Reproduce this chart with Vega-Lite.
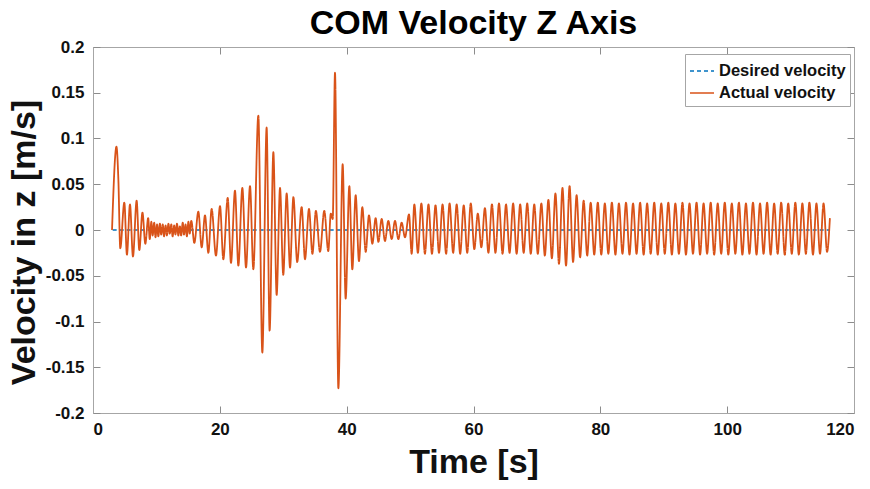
{
"$schema": "https://vega.github.io/schema/vega-lite/v6.json",
"width": 761, "height": 366,
"autosize": {"type": "none"},
"padding": {"left": 93, "top": 47, "right": 16, "bottom": 76},
"background": "white",
"title": {"text": "COM Velocity Z Axis", "font": "Liberation Sans", "fontSize": 34, "fontWeight": "bold", "color": "#000000", "anchor": "middle", "offset": -3},
"config": {
  "view": {"stroke": "#a6a6a6", "strokeWidth": 1},
  "axis": {"grid": false, "domainColor": "#a6a6a6", "tickColor": "#8c8c8c", "tickWidth": 1, "tickSize": -7, "labelFont": "Liberation Sans", "labelFontWeight": "bold", "labelFontSize": 17, "labelColor": "#111111", "titleFont": "Liberation Sans", "titleFontWeight": "bold", "titleFontSize": 34, "titleColor": "#111111"},
  "legend": {"strokeColor": "#a6a6a6", "fillColor": "white", "padding": 4, "labelFont": "Liberation Sans", "labelFontWeight": "bold", "labelFontSize": 16.5, "labelColor": "#111111", "symbolType": "stroke", "symbolSize": 576, "symbolStrokeWidth": 1.5, "rowPadding": 0, "labelOffset": 4}
},
"datasets": {"d": [
{"t":3.1,"v":0,"s":"D"},{"t":116.2,"v":0,"s":"D"},
{"t":3.0,"v":0,"s":"A"},{"t":3.7,"v":0.091,"s":"A"},{"t":4.0,"v":0.055,"s":"A"},{"t":4.3,"v":-0.020,"s":"A"},{"t":4.94,"v":0.030,"s":"A"},{"t":5.35,"v":-0.027,"s":"A"},{"t":5.83,"v":0.028,"s":"A"},{"t":6.3,"v":-0.029,"s":"A"},{"t":6.88,"v":0.032,"s":"A"},{"t":7.3,"v":-0.022,"s":"A"},{"t":7.8,"v":0.019,"s":"A"},{"t":8.25,"v":-0.015,"s":"A"},{"t":8.7,"v":0.013,"s":"A"},
{"t":8.95,"v":-0.010,"s":"A"},{"t":9.2,"v":0.009,"s":"A"},{"t":9.4,"v":-0.006,"s":"A"},{"t":9.65,"v":0.008,"s":"A"},{"t":9.85,"v":-0.008,"s":"A"},{"t":10.1,"v":0.006,"s":"A"},{"t":10.3,"v":-0.007,"s":"A"},{"t":10.55,"v":0.007,"s":"A"},{"t":10.75,"v":-0.005,"s":"A"},{"t":11.0,"v":0.006,"s":"A"},{"t":11.2,"v":-0.007,"s":"A"},{"t":11.45,"v":0.005,"s":"A"},{"t":11.65,"v":-0.006,"s":"A"},{"t":11.9,"v":0.007,"s":"A"},{"t":12.1,"v":-0.004,"s":"A"},{"t":12.35,"v":0.006,"s":"A"},{"t":12.55,"v":-0.007,"s":"A"},{"t":12.8,"v":0.005,"s":"A"},{"t":13.0,"v":-0.005,"s":"A"},{"t":13.25,"v":0.007,"s":"A"},{"t":13.45,"v":-0.006,"s":"A"},{"t":13.7,"v":0.004,"s":"A"},{"t":13.9,"v":-0.006,"s":"A"},{"t":14.15,"v":0.008,"s":"A"},{"t":14.35,"v":-0.005,"s":"A"},{"t":14.6,"v":0.006,"s":"A"},{"t":14.8,"v":-0.007,"s":"A"},{"t":15.05,"v":0.009,"s":"A"},{"t":15.25,"v":-0.004,"s":"A"},{"t":15.5,"v":0.010,"s":"A"},{"t":15.98,"v":-0.014,"s":"A"},
{"t":16.61,"v":0.020,"s":"A"},{"t":17.14,"v":-0.019,"s":"A"},{"t":17.66,"v":0.016,"s":"A"},{"t":18.19,"v":-0.025,"s":"A"},{"t":18.71,"v":0.023,"s":"A"},{"t":19.39,"v":-0.028,"s":"A"},{"t":20.03,"v":0.026,"s":"A"},{"t":20.55,"v":-0.032,"s":"A"},{"t":21.24,"v":0.035,"s":"A"},{"t":21.76,"v":-0.036,"s":"A"},{"t":22.39,"v":0.043,"s":"A"},{"t":22.92,"v":-0.039,"s":"A"},{"t":23.55,"v":0.046,"s":"A"},{"t":24.13,"v":-0.041,"s":"A"},{"t":24.76,"v":0.048,"s":"A"},{"t":25.28,"v":-0.043,"s":"A"},
{"t":26.07,"v":0.125,"s":"A"},{"t":26.7,"v":-0.134,"s":"A"},{"t":27.38,"v":0.112,"s":"A"},{"t":27.85,"v":-0.110,"s":"A"},{"t":28.44,"v":0.085,"s":"A"},{"t":28.96,"v":-0.071,"s":"A"},{"t":29.49,"v":0.046,"s":"A"},{"t":30.0,"v":-0.049,"s":"A"},{"t":30.54,"v":0.040,"s":"A"},{"t":31.07,"v":-0.041,"s":"A"},{"t":31.6,"v":0.036,"s":"A"},{"t":32.2,"v":-0.035,"s":"A"},{"t":32.9,"v":0.025,"s":"A"},{"t":33.43,"v":-0.032,"s":"A"},{"t":34.06,"v":0.023,"s":"A"},{"t":34.6,"v":-0.026,"s":"A"},{"t":35.15,"v":0.021,"s":"A"},{"t":35.79,"v":-0.024,"s":"A"},{"t":36.47,"v":0.021,"s":"A"},{"t":37.1,"v":-0.023,"s":"A"},{"t":37.5,"v":0.018,"s":"A"},{"t":37.8,"v":0.012,"s":"A"},
{"t":38.16,"v":0.172,"s":"A"},{"t":38.69,"v":-0.173,"s":"A"},{"t":39.37,"v":0.072,"s":"A"},{"t":39.84,"v":-0.075,"s":"A"},{"t":40.42,"v":0.048,"s":"A"},{"t":40.89,"v":-0.043,"s":"A"},{"t":41.42,"v":0.038,"s":"A"},{"t":41.94,"v":-0.034,"s":"A"},{"t":42.47,"v":0.025,"s":"A"},{"t":43.0,"v":-0.024,"s":"A"},{"t":43.52,"v":0.016,"s":"A"},{"t":44.05,"v":-0.015,"s":"A"},{"t":44.57,"v":0.013,"s":"A"},{"t":45.0,"v":-0.013,"s":"A"},{"t":45.52,"v":0.012,"s":"A"},{"t":46.04,"v":-0.012,"s":"A"},{"t":46.57,"v":0.010,"s":"A"},{"t":47.1,"v":-0.010,"s":"A"},{"t":47.62,"v":0.010,"s":"A"},{"t":48.15,"v":-0.010,"s":"A"},{"t":48.67,"v":0.008,"s":"A"},{"t":49.2,"v":-0.008,"s":"A"},{"t":49.83,"v":0.017,"s":"A"},{"t":50.25,"v":-0.026,"s":"A"},
{"t":50.67,"v":0.028,"s":"A"},{"t":51.23,"v":-0.025,"s":"A"},{"t":51.78,"v":0.029,"s":"A"},{"t":52.34,"v":-0.026,"s":"A"},{"t":52.90,"v":0.028,"s":"A"},{"t":53.45,"v":-0.026,"s":"A"},{"t":54.01,"v":0.027,"s":"A"},{"t":54.56,"v":-0.025,"s":"A"},{"t":55.12,"v":0.028,"s":"A"},{"t":55.68,"v":-0.026,"s":"A"},{"t":56.23,"v":0.029,"s":"A"},{"t":56.79,"v":-0.025,"s":"A"},{"t":57.35,"v":0.028,"s":"A"},{"t":57.90,"v":-0.026,"s":"A"},{"t":58.46,"v":0.027,"s":"A"},{"t":59.01,"v":-0.025,"s":"A"},{"t":59.57,"v":0.029,"s":"A"},{"t":60.13,"v":-0.021,"s":"A"},{"t":60.68,"v":0.018,"s":"A"},{"t":61.24,"v":-0.019,"s":"A"},{"t":61.80,"v":0.024,"s":"A"},{"t":62.35,"v":-0.025,"s":"A"},{"t":62.91,"v":0.028,"s":"A"},{"t":63.46,"v":-0.025,"s":"A"},{"t":64.02,"v":0.029,"s":"A"},{"t":64.58,"v":-0.026,"s":"A"},{"t":65.13,"v":0.028,"s":"A"},{"t":65.69,"v":-0.025,"s":"A"},{"t":66.25,"v":0.029,"s":"A"},{"t":66.80,"v":-0.026,"s":"A"},{"t":67.36,"v":0.028,"s":"A"},{"t":67.91,"v":-0.025,"s":"A"},{"t":68.47,"v":0.029,"s":"A"},{"t":69.03,"v":-0.026,"s":"A"},{"t":69.58,"v":0.028,"s":"A"},{"t":70.14,"v":-0.026,"s":"A"},{"t":70.70,"v":0.029,"s":"A"},{"t":71.25,"v":-0.028,"s":"A"},{"t":71.81,"v":0.033,"s":"A"},{"t":72.36,"v":-0.031,"s":"A"},{"t":72.92,"v":0.040,"s":"A"},{"t":73.48,"v":-0.037,"s":"A"},{"t":74.03,"v":0.046,"s":"A"},{"t":74.59,"v":-0.039,"s":"A"},{"t":75.15,"v":0.048,"s":"A"},{"t":75.70,"v":-0.035,"s":"A"},{"t":76.26,"v":0.038,"s":"A"},{"t":76.81,"v":-0.030,"s":"A"},{"t":77.37,"v":0.032,"s":"A"},{"t":77.93,"v":-0.028,"s":"A"},{"t":78.48,"v":0.030,"s":"A"},{"t":79.04,"v":-0.027,"s":"A"},
{"t":79.60,"v":0.030,"s":"A"},{"t":80.15,"v":-0.027,"s":"A"},{"t":80.71,"v":0.029,"s":"A"},{"t":81.26,"v":-0.026,"s":"A"},{"t":81.82,"v":0.030,"s":"A"},{"t":82.38,"v":-0.027,"s":"A"},{"t":82.93,"v":0.029,"s":"A"},{"t":83.49,"v":-0.026,"s":"A"},{"t":84.05,"v":0.030,"s":"A"},{"t":84.60,"v":-0.027,"s":"A"},{"t":85.16,"v":0.029,"s":"A"},{"t":85.71,"v":-0.026,"s":"A"},{"t":86.27,"v":0.030,"s":"A"},{"t":86.83,"v":-0.027,"s":"A"},{"t":87.38,"v":0.029,"s":"A"},{"t":87.94,"v":-0.026,"s":"A"},{"t":88.50,"v":0.030,"s":"A"},{"t":89.05,"v":-0.027,"s":"A"},{"t":89.61,"v":0.029,"s":"A"},{"t":90.16,"v":-0.026,"s":"A"},{"t":90.72,"v":0.030,"s":"A"},{"t":91.28,"v":-0.027,"s":"A"},{"t":91.83,"v":0.029,"s":"A"},{"t":92.39,"v":-0.026,"s":"A"},{"t":92.95,"v":0.030,"s":"A"},{"t":93.50,"v":-0.027,"s":"A"},{"t":94.06,"v":0.029,"s":"A"},{"t":94.61,"v":-0.026,"s":"A"},{"t":95.17,"v":0.030,"s":"A"},{"t":95.73,"v":-0.027,"s":"A"},{"t":96.28,"v":0.029,"s":"A"},{"t":96.84,"v":-0.026,"s":"A"},{"t":97.40,"v":0.030,"s":"A"},{"t":97.95,"v":-0.027,"s":"A"},{"t":98.51,"v":0.029,"s":"A"},{"t":99.06,"v":-0.026,"s":"A"},{"t":99.62,"v":0.030,"s":"A"},{"t":100.18,"v":-0.027,"s":"A"},{"t":100.73,"v":0.029,"s":"A"},{"t":101.29,"v":-0.026,"s":"A"},{"t":101.85,"v":0.030,"s":"A"},{"t":102.40,"v":-0.027,"s":"A"},{"t":102.96,"v":0.029,"s":"A"},{"t":103.51,"v":-0.026,"s":"A"},{"t":104.07,"v":0.030,"s":"A"},{"t":104.63,"v":-0.027,"s":"A"},{"t":105.18,"v":0.029,"s":"A"},{"t":105.74,"v":-0.026,"s":"A"},{"t":106.30,"v":0.030,"s":"A"},{"t":106.85,"v":-0.027,"s":"A"},{"t":107.41,"v":0.029,"s":"A"},{"t":107.96,"v":-0.026,"s":"A"},{"t":108.52,"v":0.030,"s":"A"},{"t":109.08,"v":-0.027,"s":"A"},{"t":109.63,"v":0.029,"s":"A"},{"t":110.19,"v":-0.026,"s":"A"},{"t":110.75,"v":0.030,"s":"A"},{"t":111.30,"v":-0.027,"s":"A"},{"t":111.86,"v":0.029,"s":"A"},{"t":112.41,"v":-0.026,"s":"A"},{"t":112.97,"v":0.030,"s":"A"},{"t":113.53,"v":-0.027,"s":"A"},{"t":114.08,"v":0.029,"s":"A"},{"t":114.64,"v":-0.026,"s":"A"},{"t":115.20,"v":0.029,"s":"A"},{"t":115.75,"v":-0.024,"s":"A"},{"t":116.2,"v":0.013,"s":"A"}
]},
"data": {"name": "d"},
"layer": [
  {
    "transform": [{"filter": "datum.s == 'D'"}],
    "mark": {"type": "line", "strokeWidth": 1.3},
    "encoding": {
      "x": {"field": "t", "type": "quantitative", "scale": {"domain": [0, 120], "nice": false, "zero": false},
            "axis": {"values": [0, 20, 40, 60, 80, 100, 120], "title": "Time [s]", "labelPadding": 15, "titlePadding": 8, "labelExpr": "'' + datum.value"}},
      "y": {"field": "v", "type": "quantitative", "scale": {"domain": [-0.2, 0.2], "nice": false},
            "axis": {"values": [-0.2, -0.15, -0.1, -0.05, 0, 0.05, 0.1, 0.15, 0.2], "title": "Velocity in z [m/s]", "labelPadding": 16, "titlePadding": 4, "titleY": 195, "labelExpr": "'' + datum.value"}},
      "color": {"field": "s", "type": "nominal", "scale": {"domain": ["D", "A"], "range": ["#0072BD", "#D95319"]},
                "legend": {"title": null, "orient": "none", "legendX": 592, "legendY": 7, "labelExpr": "datum.label == 'D' ? 'Desired velocity' : 'Actual velocity'"}},
      "strokeDash": {"field": "s", "type": "nominal", "scale": {"domain": ["D", "A"], "range": [[4, 3], [1, 0]]},
                "legend": {"title": null, "orient": "none", "legendX": 592, "legendY": 7, "labelExpr": "datum.label == 'D' ? 'Desired velocity' : 'Actual velocity'"}}
    }
  },
  {
    "transform": [{"filter": "datum.s == 'A'"}],
    "mark": {"type": "line", "strokeWidth": 1.8, "interpolate": "monotone"},
    "encoding": {
      "x": {"field": "t", "type": "quantitative", "axis": {"orient": "top", "values": [0, 20, 40, 60, 80, 100, 120], "labels": false, "title": null}},
      "y": {"field": "v", "type": "quantitative", "axis": {"orient": "right", "values": [-0.2, -0.15, -0.1, -0.05, 0, 0.05, 0.1, 0.15, 0.2], "labels": false, "title": null}},
      "color": {"field": "s", "type": "nominal"},
      "strokeDash": {"field": "s", "type": "nominal"}
    }
  }
],
"resolve": {"axis": {"x": "independent", "y": "independent"}}
}
